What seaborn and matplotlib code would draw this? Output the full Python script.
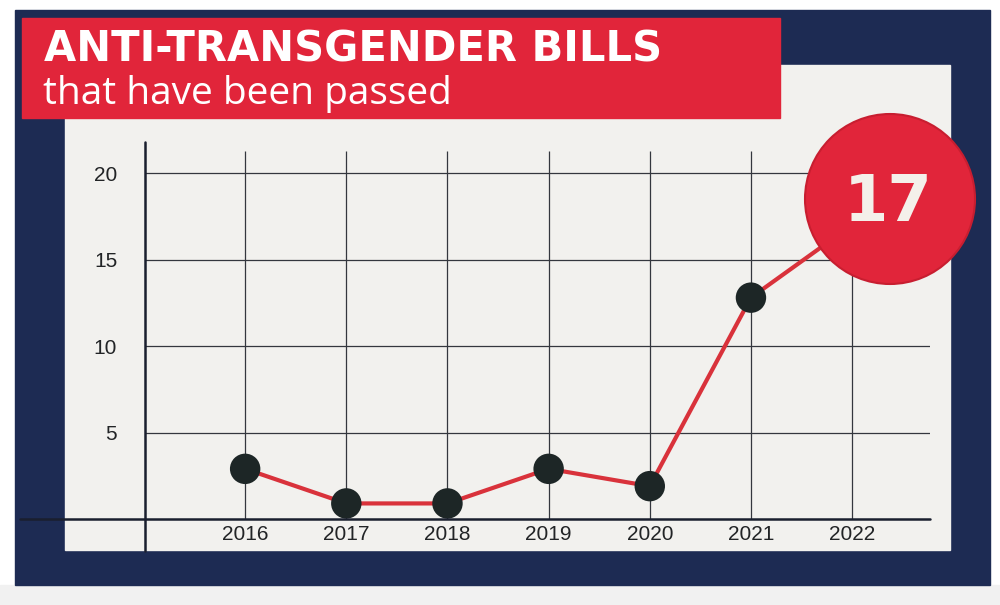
import numpy as np
import pandas as pd
import matplotlib
matplotlib.use("Agg")
import matplotlib.pyplot as plt
from matplotlib.patches import Rectangle, Ellipse
from matplotlib.lines import Line2D
import seaborn as sns

# data
years = [2016, 2017, 2018, 2019, 2020, 2021, 2022]
bills = [2.9, 0.9, 0.9, 2.9, 1.9, 12.8, 17]
y_ticks = [5, 10, 15, 20]
highlight = "17"

NAVY = "#1d2b53"
RED = "#e1253a"
PANEL = "#f2f1ee"
LINE_RED = "#d9323b"
DOT = "#1d2626"
INK = "#222426"

df = pd.DataFrame({"year": years, "bills": bills})

sns.set_style("white")
plt.rcParams['font.family'] = ['Liberation Sans', 'DejaVu Sans']

W, H = 1000, 605
fig = plt.figure(figsize=(10, 6.05), dpi=100, facecolor="white")


def fx(px):
    return px / W


def fy(py):
    return 1 - py / H


# frame, panel and banner
fig.patches.append(Rectangle((fx(15), fy(585)), fx(975), 575 / H, transform=fig.transFigure,
                             color=NAVY, zorder=-20))
fig.patches.append(Rectangle((fx(0), fy(605)), 1, 20 / H, transform=fig.transFigure,
                             color="#f1f1f1", zorder=-21))
fig.patches.append(Rectangle((fx(65), fy(550)), fx(885), 485 / H, transform=fig.transFigure,
                             color=PANEL, zorder=-19))
fig.patches.append(Rectangle((fx(22), fy(118)), fx(758), 100 / H, transform=fig.transFigure,
                             color=RED, zorder=-18))

fig.text(fx(44), fy(62), "ANTI-TRANSGENDER BILLS", color="white", fontsize=30,
         fontweight="bold", family=["DejaVu Sans"])
fig.text(fx(43), fy(104), "that have been passed", color="white", fontsize=28,
         fontweight="normal", family=["Open Sans", "Liberation Sans", "DejaVu Sans"])

ax = fig.add_axes([fx(145), fy(519), fx(930 - 145), (519 - 142) / H])
ax.set_facecolor("none")

ax.set_xlim(2015.01, 2022.77)
ax.set_ylim(0, 21.8)

for y in y_ticks:
    ax.axhline(y, color="#34373e", lw=0.9, zorder=1)
ax.vlines(years, 0, 21.3, color="#34373e", lw=0.9, zorder=1)

sns.lineplot(data=df, x="year", y="bills", color=LINE_RED, lw=3, ax=ax, zorder=3)
sns.scatterplot(data=df[df["year"] < 2022], x="year", y="bills", color=DOT, s=480,
                edgecolor="none", ax=ax, zorder=4)

ax.set_xticks(years)
ax.set_xticklabels([str(y) for y in years])
ax.set_yticks(y_ticks)
ax.tick_params(length=0, labelsize=15, labelcolor=INK)
ax.tick_params(axis="x", pad=4)
ax.tick_params(axis="y", pad=20)
ax.set_xlabel("")
ax.set_ylabel("")
for s in ax.spines.values():
    s.set_visible(False)

# extended axis lines
fig.lines.append(Line2D([fx(20), fx(930)], [fy(519), fy(519)], transform=fig.transFigure,
                        color="#1a1f2e", lw=1.8, zorder=5))
fig.lines.append(Line2D([fx(145), fx(145)], [fy(142), fy(551)], transform=fig.transFigure,
                        color="#1a1f2e", lw=1.8, zorder=5))

# big highlight bubble
fig.patches.append(Ellipse((fx(890), fy(199)), 170 / W, 170 / H, transform=fig.transFigure,
                           facecolor=RED, edgecolor="#c81e30", lw=1.5, zorder=10))
fig.text(fx(888), fy(203), highlight, color="#f4f0ea", fontsize=46, fontweight="bold",
         ha="center", va="center", zorder=11, family=["DejaVu Sans"])

fig.savefig("out.png", dpi=100, facecolor="white")
